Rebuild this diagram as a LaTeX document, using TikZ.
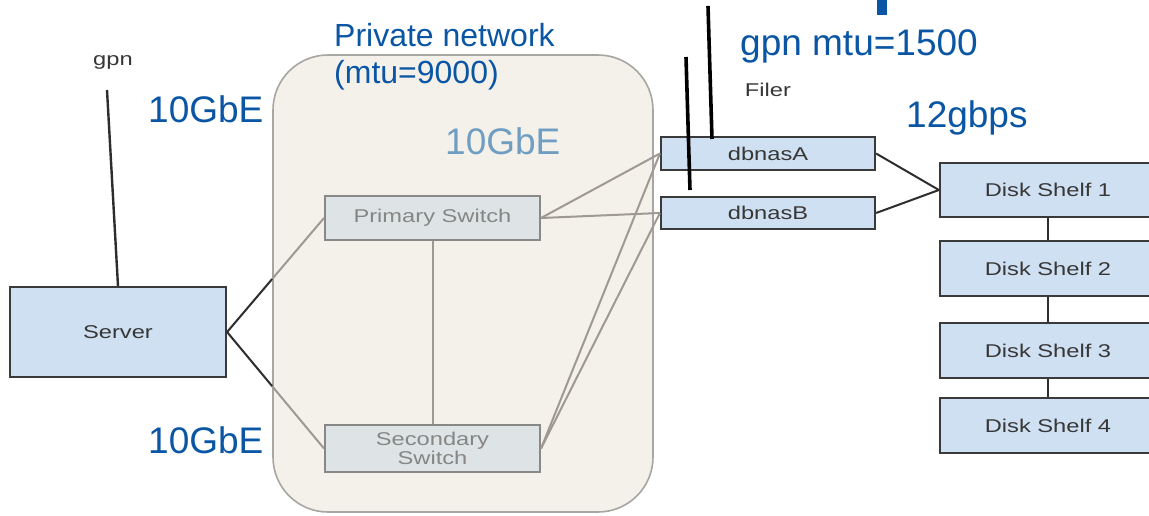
\documentclass[tikz,border=0pt]{standalone}
\usepackage{fontspec}
\setmainfont{Liberation Sans}
\newfontfamily\labelfont[FakeStretch=1.28]{Liberation Sans}
\usetikzlibrary{calc}

\definecolor{netblue}{RGB}{10,86,164}
\definecolor{paleblue}{RGB}{112,158,194}
\definecolor{unitfill}{RGB}{207,224,242}
\definecolor{unitline}{RGB}{58,58,58}
\definecolor{labeltext}{RGB}{55,55,55}
\definecolor{switchfill}{RGB}{222,228,230}
\definecolor{switchline}{RGB}{136,136,134}
\definecolor{switchtext}{RGB}{134,134,132}
\definecolor{zonefill}{RGB}{244,241,235}
\definecolor{zoneline}{RGB}{168,166,162}
\definecolor{wiredark}{RGB}{45,45,45}
\definecolor{wirepale}{RGB}{158,154,147}

\begin{document}
\begin{tikzpicture}[x=1pt,y=-1pt,
  smalltext/.style={font=\labelfont\fontsize{18.5}{19.5}\selectfont},
  unit/.style={draw=unitline, line width=2.2pt, fill=unitfill, inner sep=0pt,
    smalltext, text=labeltext},
  switchbox/.style={draw=switchline, line width=2pt, fill=switchfill, inner sep=0pt,
    smalltext, text=switchtext, align=center},
  zone/.style={draw=zoneline, line width=1.6pt, fill=zonefill, rounded corners=55pt},
  bigblue/.style={font=\fontsize{37}{44}\selectfont, text=netblue, inner sep=0pt, anchor=base west},
  midblue/.style={font=\fontsize{32}{37}\selectfont, text=netblue, inner sep=0pt, anchor=base west},
  wire/.style={draw=wiredark, line width=2pt},
  palewire/.style={draw=wirepale, line width=2pt},
  uplink/.style={draw=black, line width=3.6pt},
  tag/.style={smalltext, text=labeltext, inner sep=0pt}]

\useasboundingbox (0,0) rectangle (1149,515);
\fill[white] (0,0) rectangle (1149,515);

% fragment of a heading letter at the top edge
\fill[netblue] (877,0) rectangle (887,15);

% private network zone
\node[zone, minimum width=380pt, minimum height=457pt] (privnet) at (463,283.5) {};

% server and its gpn uplink
\node[tag] (gpnsrv) at (113,62) {gpn};
\coordinate (gpnsrvend) at (107,90);
\node[unit, minimum width=216pt, minimum height=90pt] (server) at (118,332) {Server};
\draw[wire, line width=2.4pt] (gpnsrvend) -- (server.north);

% switches
\node[switchbox, minimum width=215pt, minimum height=44pt] (psw) at (432.5,218) {Primary Switch};
\node[switchbox, minimum width=215pt, minimum height=47pt] (ssw) at (432.5,448.5) {Secondary\\Switch};

% filer heads
\node[unit, minimum width=214pt, minimum height=33pt] (nasA) at (768,153.5) {dbnasA};
\node[unit, minimum width=214pt, minimum height=32pt] (nasB) at (768,213) {dbnasB};

% disk shelves
\node[unit, minimum width=216pt, minimum height=54pt] (shelf1) at (1048,190) {Disk Shelf 1};
\node[unit, minimum width=216pt, minimum height=55pt] (shelf2) at (1048,268.5) {Disk Shelf 2};
\node[unit, minimum width=216pt, minimum height=55pt] (shelf3) at (1048,350.5) {Disk Shelf 3};
\node[unit, minimum width=216pt, minimum height=55pt] (shelf4) at (1048,425.5) {Disk Shelf 4};

% server links: dark outside the zone, pale inside it
\coordinate (xp) at (intersection of server.east--psw.west and privnet.north west--privnet.south west);
\coordinate (xs) at (intersection of server.east--ssw.west and privnet.north west--privnet.south west);
\draw[wire] (server.east) -- (xp);
\draw[wire] (server.east) -- (xs);
\draw[palewire] (xp) -- (psw.west);
\draw[palewire] (xs) -- (ssw.west);

% switch interconnect and links to the filer heads
\draw[palewire] (psw.south) -- (ssw.north);
\draw[palewire] (psw.east) -- (nasA.west);
\draw[palewire] (psw.east) -- (nasB.west);
\draw[palewire] (ssw.east) -- (nasA.west);
\draw[palewire] (ssw.east) -- (nasB.west);

% filer heads to the shelf chain
\draw[wire] (nasA.east) -- (shelf1.west);
\draw[wire] (nasB.east) -- (shelf1.west);
\draw[wire] (shelf1.south) -- (shelf2.north);
\draw[wire] (shelf2.south) -- (shelf3.north);
\draw[wire] (shelf3.south) -- (shelf4.north);

% gpn uplinks of the filer
\coordinate (upAtop) at (708,6);
\coordinate (upAbot) at (712,139);
\coordinate (upBtop) at (686,57);
\coordinate (upBbot) at (690,190);
\draw[uplink] (upAtop) -- (upAbot);
\draw[uplink] (upBtop) -- (upBbot);
\node[tag] (filer) at (768,90) {Filer};

% network labels
\node[midblue] (pnlabel) at (334,46) {Private network};
\node[midblue] (mtulabel) at (334,83) {(mtu=9000)};
\node[bigblue] (ge1) at (148,122) {10GbE};
\node[bigblue] (ge2) at (148,453) {10GbE};
\node[bigblue, text=paleblue] (ge3) at (445,154) {10GbE};
\node[bigblue] (gpnmtu) at (740,55) {gpn mtu=1500};
\node[bigblue] (rate) at (906,127) {12gbps};
\end{tikzpicture}
\end{document}
